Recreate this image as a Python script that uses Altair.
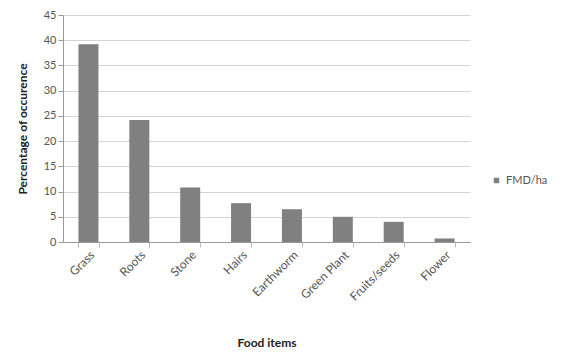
import altair as alt
import pandas as pd

foods = ["Grass", "Roots", "Stone", "Hairs", "Earthworm", "Green Plant", "Fruits/seeds", "Flower"]
values = [39.2, 24.2, 10.8, 7.7, 6.5, 5.0, 4.0, 0.7]
series = ["FMD/ha"] * len(foods)

df = pd.DataFrame({"food": foods, "value": values, "series": series})

FONT = "Lato"

chart = alt.Chart(df).mark_bar(size=20, color="#808080").encode(
    x=alt.X("food:N", sort=foods, title="Food items",
            scale=alt.Scale(paddingInner=0.6, paddingOuter=0.3),
            axis=alt.Axis(labelAngle=-45, labelAlign="right", labelBaseline="top",
                          labelFontSize=12, labelColor="#555555", labelFont=FONT,
                          domainColor="#999999", tickColor="#bbbbbb", ticks=True,
                          tickSize=5, tickBand="extent",
                          titleFont=FONT, titleFontSize=12, titleFontWeight="bold",
                          titleColor="#222222", titleY=95)),
    y=alt.Y("value:Q", title="Percentage of occurence",
            scale=alt.Scale(domain=[0, 45], nice=False),
            axis=alt.Axis(values=list(range(0, 46, 5)), labelFontSize=11, labelColor="#555555",
                          labelFont=FONT, domainColor="#999999", tickColor="#999999",
                          tickSize=5, gridColor="#d4d4d4", titleFont=FONT,
                          titleFontSize=12, titleFontWeight="bold", titleColor="#222222",
                          titlePadding=14)),
    color=alt.Color("series:N", scale=alt.Scale(range=["#808080"]),
                    legend=alt.Legend(title=None, orient="none", legendX=428, legendY=160,
                                      symbolType="square", symbolSize=30,
                                      labelFont=FONT, labelFontSize=11, labelColor="#555555")),
).properties(
    width=407, height=227,
    padding={"left": 63, "top": 15, "right": 94, "bottom": 111},
    autosize=alt.AutoSizeParams(type="none"),
).configure_view(stroke=None)

chart.save("out.html", embed_options={"renderer": "svg", "actions": False})
